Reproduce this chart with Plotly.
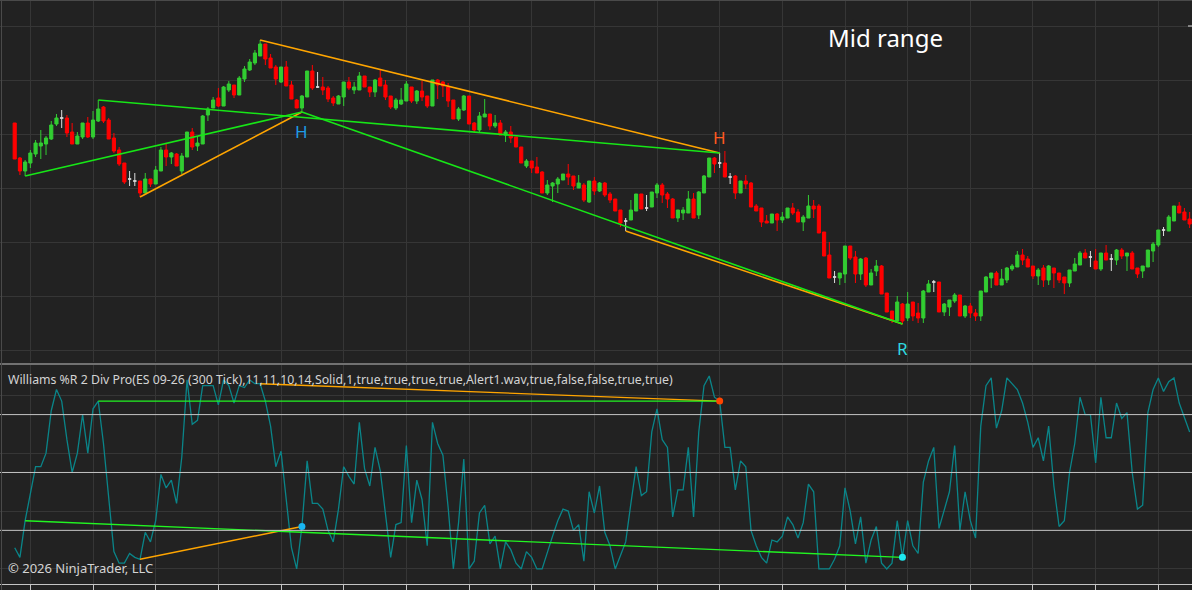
import plotly.graph_objects as go

# ES 09-26 (300 Tick) candles
bars = list(range(226))

opens = [
    6593.85, 6592.10, 6591.45, 6591.85, 6592.30, 6592.70, 6592.80, 6593.05, 6593.80, 6594.10,
    6594.10, 6593.40, 6592.80, 6593.15, 6593.85, 6593.15, 6593.95, 6594.65, 6594.00, 6593.10,
    6592.50, 6591.85, 6591.05, 6590.95, 6590.95, 6590.35, 6591.05, 6590.80, 6591.45, 6592.50,
    6592.15, 6592.30, 6591.45, 6592.15, 6593.40, 6592.70, 6592.80, 6594.25, 6594.60, 6595.10,
    6594.70, 6595.50, 6595.75, 6595.25, 6596.05, 6596.50, 6596.85, 6597.20, 6597.80, 6597.10,
    6596.65, 6595.90, 6596.65, 6595.75, 6595.00, 6594.60, 6595.15, 6596.45, 6595.65, 6595.65,
    6595.60, 6595.10, 6594.80, 6595.15, 6595.90, 6595.50, 6595.50, 6596.20, 6595.65, 6595.40,
    6596.10, 6595.75, 6595.20, 6594.60, 6594.80, 6594.95, 6595.65, 6594.95, 6595.45, 6595.20,
    6594.70, 6596.00, 6595.90, 6595.65, 6595.00, 6594.05, 6594.50, 6595.20, 6593.85, 6593.50,
    6594.15, 6594.30, 6593.70, 6593.85, 6593.25, 6593.40, 6593.15, 6592.65, 6591.70, 6591.95,
    6591.65, 6591.40, 6590.35, 6590.70, 6590.80, 6591.00, 6591.30, 6591.20, 6590.60, 6590.75,
    6589.90, 6590.95, 6590.45, 6590.85, 6590.30, 6590.05, 6589.50, 6588.95, 6589.00, 6589.45,
    6590.30, 6589.60, 6589.65, 6590.35, 6590.75, 6590.30, 6590.05, 6589.10, 6589.35, 6589.35,
    6590.05, 6589.25, 6590.35, 6591.15, 6592.10, 6591.85, 6591.85, 6591.15, 6591.20, 6590.35,
    6590.95, 6590.85, 6589.70, 6589.60, 6588.95, 6588.85, 6589.30, 6589.00, 6589.10, 6589.60,
    6589.40, 6588.90, 6589.10, 6589.70, 6589.70, 6588.40, 6587.25, 6586.15, 6586.10, 6586.30,
    6587.70, 6587.15, 6586.30, 6587.10, 6585.75, 6586.45, 6586.70, 6585.35, 6584.45, 6583.95,
    6584.80, 6584.10, 6584.90, 6584.35, 6584.10, 6585.40, 6585.90, 6585.90, 6584.40, 6584.65,
    6584.95, 6585.25, 6584.20, 6584.70, 6584.35, 6584.20, 6585.40, 6586.10, 6586.35, 6585.75,
    6586.00, 6586.55, 6586.65, 6587.25, 6587.05, 6586.70, 6586.20, 6586.60, 6586.00, 6586.60,
    6586.35, 6586.15, 6585.85, 6586.45, 6586.75, 6587.35, 6587.15, 6586.95, 6586.55, 6587.35,
    6587.05, 6587.00, 6587.50, 6587.20, 6587.35, 6586.60, 6586.45, 6586.65, 6587.45, 6587.75,
    6588.50, 6588.45, 6588.95, 6589.70, 6589.40, 6589.05,
]

highs = [
    6593.85, 6592.15, 6592.00, 6592.50, 6593.00, 6593.50, 6593.20, 6593.95, 6594.30, 6594.50,
    6594.25, 6593.85, 6593.40, 6593.85, 6594.15, 6594.45, 6595.00, 6594.70, 6594.10, 6593.35,
    6592.65, 6591.85, 6591.45, 6591.35, 6590.95, 6591.35, 6591.05, 6591.70, 6592.65, 6592.80,
    6592.40, 6592.35, 6592.35, 6593.40, 6593.60, 6593.20, 6594.25, 6594.65, 6595.15, 6595.60,
    6595.70, 6595.95, 6595.75, 6596.20, 6596.70, 6597.05, 6597.50, 6598.00, 6597.80, 6597.30,
    6596.75, 6596.65, 6596.95, 6595.95, 6595.05, 6595.25, 6596.45, 6596.75, 6596.40, 6596.15,
    6595.70, 6595.20, 6595.25, 6595.90, 6596.15, 6595.90, 6596.40, 6596.20, 6595.65, 6596.05,
    6596.50, 6596.00, 6595.20, 6595.10, 6595.60, 6595.95, 6595.65, 6595.50, 6595.95, 6595.20,
    6596.00, 6596.05, 6595.95, 6595.85, 6595.00, 6594.65, 6595.25, 6595.20, 6593.90, 6594.40,
    6595.05, 6594.30, 6594.25, 6594.00, 6593.50, 6593.70, 6593.15, 6592.65, 6592.05, 6591.95,
    6592.15, 6591.45, 6591.00, 6590.90, 6591.15, 6591.30, 6591.80, 6591.20, 6591.25, 6590.85,
    6590.95, 6591.15, 6590.90, 6590.90, 6590.40, 6590.05, 6589.50, 6589.10, 6590.00, 6590.30,
    6590.30, 6590.25, 6590.40, 6590.85, 6590.85, 6590.40, 6590.10, 6589.50, 6589.65, 6590.45,
    6590.35, 6590.45, 6591.25, 6592.10, 6592.15, 6592.35, 6592.45, 6591.35, 6591.25, 6590.95,
    6591.25, 6590.90, 6589.80, 6589.60, 6589.25, 6589.30, 6589.35, 6589.40, 6589.60, 6589.85,
    6589.55, 6589.25, 6590.25, 6590.00, 6589.80, 6588.40, 6587.90, 6586.45, 6586.35, 6587.70,
    6587.70, 6587.45, 6587.10, 6587.15, 6586.55, 6587.00, 6586.75, 6585.35, 6584.45, 6585.20,
    6584.85, 6585.40, 6584.90, 6584.85, 6585.50, 6586.00, 6586.00, 6585.90, 6584.85, 6585.00,
    6585.35, 6585.25, 6584.75, 6584.85, 6584.55, 6585.45, 6586.20, 6586.35, 6586.45, 6586.55,
    6586.65, 6586.80, 6587.45, 6587.55, 6587.20, 6586.70, 6586.60, 6586.75, 6586.75, 6586.60,
    6586.35, 6586.15, 6586.50, 6587.10, 6587.45, 6587.55, 6587.45, 6587.55, 6587.35, 6587.75,
    6587.30, 6587.55, 6587.60, 6587.35, 6587.45, 6586.60, 6586.70, 6587.50, 6587.90, 6588.50,
    6588.65, 6589.25, 6589.70, 6589.90, 6589.60, 6589.40,
]

lows = [
    6592.05, 6591.25, 6591.20, 6591.60, 6592.15, 6592.05, 6592.25, 6593.00, 6593.70, 6593.60,
    6593.15, 6592.80, 6592.80, 6593.05, 6593.10, 6593.05, 6593.90, 6593.85, 6593.05, 6592.35,
    6591.70, 6590.80, 6590.70, 6590.70, 6590.15, 6590.35, 6590.65, 6590.80, 6591.45, 6591.70,
    6591.80, 6591.70, 6591.30, 6592.15, 6592.50, 6592.45, 6592.80, 6593.95, 6594.60, 6594.65,
    6594.70, 6595.40, 6595.10, 6595.25, 6595.90, 6596.45, 6596.75, 6597.20, 6596.75, 6596.60,
    6595.75, 6595.85, 6595.70, 6595.05, 6594.60, 6594.40, 6595.15, 6595.50, 6595.60, 6595.25,
    6594.90, 6594.70, 6594.80, 6594.70, 6595.50, 6595.30, 6595.50, 6595.65, 6595.15, 6595.15,
    6595.70, 6595.00, 6594.55, 6594.50, 6594.75, 6594.95, 6594.85, 6594.80, 6594.95, 6594.60,
    6594.70, 6595.05, 6595.15, 6594.65, 6594.05, 6593.95, 6594.45, 6593.80, 6593.35, 6593.35,
    6594.15, 6593.50, 6593.60, 6593.25, 6592.90, 6592.85, 6592.65, 6591.85, 6591.60, 6591.35,
    6591.35, 6590.35, 6590.25, 6589.90, 6590.35, 6591.00, 6590.75, 6590.50, 6590.60, 6589.90,
    6589.85, 6590.25, 6590.40, 6590.15, 6589.85, 6589.45, 6588.65, 6588.45, 6589.00, 6589.45,
    6589.55, 6589.45, 6589.65, 6590.10, 6589.85, 6589.60, 6589.10, 6588.90, 6589.00, 6589.35,
    6589.10, 6589.05, 6590.35, 6591.15, 6591.35, 6591.60, 6591.15, 6590.80, 6590.05, 6590.35,
    6590.55, 6589.65, 6589.45, 6588.65, 6588.85, 6588.85, 6588.45, 6588.85, 6589.10, 6589.25,
    6588.90, 6588.45, 6589.10, 6589.10, 6588.35, 6587.20, 6586.10, 6585.85, 6585.75, 6585.85,
    6587.00, 6585.85, 6586.00, 6585.65, 6585.75, 6586.20, 6585.30, 6584.40, 6583.85, 6583.95,
    6583.80, 6583.95, 6583.95, 6583.85, 6583.85, 6585.40, 6585.40, 6584.40, 6584.20, 6584.20,
    6584.85, 6584.20, 6584.10, 6584.10, 6583.95, 6583.95, 6585.40, 6585.60, 6585.75, 6585.75,
    6585.85, 6586.45, 6586.65, 6586.75, 6586.65, 6586.05, 6585.75, 6585.65, 6585.75, 6585.60,
    6585.85, 6585.30, 6585.65, 6586.45, 6586.75, 6587.10, 6586.65, 6586.55, 6586.45, 6587.00,
    6586.45, 6586.75, 6587.05, 6586.45, 6586.55, 6586.10, 6586.10, 6586.65, 6586.90, 6587.65,
    6588.20, 6588.45, 6588.95, 6589.35, 6589.00, 6588.60,
]

closes = [
    6592.05, 6591.45, 6591.90, 6592.35, 6592.85, 6592.85, 6593.10, 6593.75, 6594.10, 6594.10,
    6593.35, 6592.80, 6593.20, 6593.85, 6593.15, 6594.00, 6594.55, 6593.95, 6593.05, 6592.45,
    6591.80, 6590.90, 6591.05, 6590.95, 6590.35, 6591.05, 6590.80, 6591.50, 6592.50, 6592.15,
    6592.35, 6591.70, 6592.20, 6593.40, 6592.65, 6592.85, 6594.20, 6594.55, 6595.00, 6594.70,
    6595.65, 6595.80, 6595.25, 6596.10, 6596.55, 6596.90, 6597.35, 6597.80, 6597.05, 6596.60,
    6596.05, 6596.65, 6595.70, 6595.05, 6594.60, 6595.20, 6596.45, 6595.60, 6595.65, 6595.50,
    6595.05, 6594.85, 6595.20, 6595.90, 6595.60, 6595.65, 6596.20, 6595.65, 6595.40, 6596.00,
    6595.70, 6595.15, 6594.65, 6595.00, 6595.00, 6595.80, 6594.95, 6595.45, 6595.15, 6594.70,
    6596.00, 6595.75, 6595.70, 6594.95, 6594.05, 6594.55, 6595.20, 6593.80, 6593.50, 6594.20,
    6594.30, 6593.70, 6593.85, 6593.25, 6593.40, 6593.10, 6592.65, 6591.85, 6591.95, 6591.60,
    6591.35, 6590.35, 6590.75, 6590.85, 6591.05, 6591.30, 6591.15, 6590.70, 6590.85, 6590.00,
    6590.95, 6590.45, 6590.85, 6590.25, 6590.00, 6589.45, 6588.85, 6588.95, 6589.50, 6590.30,
    6589.55, 6589.60, 6590.40, 6590.75, 6590.25, 6590.05, 6589.10, 6589.50, 6589.50, 6590.05,
    6589.10, 6590.40, 6591.20, 6592.10, 6591.80, 6591.85, 6591.15, 6591.15, 6590.35, 6590.95,
    6590.80, 6589.65, 6589.45, 6588.90, 6588.85, 6589.30, 6589.00, 6589.15, 6589.60, 6589.35,
    6588.90, 6589.15, 6589.70, 6589.55, 6588.35, 6587.20, 6586.10, 6586.15, 6586.35, 6587.70,
    6587.10, 6586.30, 6587.05, 6585.75, 6586.35, 6586.70, 6585.30, 6584.40, 6584.00, 6584.90,
    6583.95, 6584.80, 6584.20, 6584.10, 6585.45, 6585.80, 6585.90, 6584.40, 6584.80, 6585.00,
    6585.25, 6584.20, 6584.70, 6584.35, 6584.20, 6585.45, 6586.15, 6586.35, 6585.75, 6586.05,
    6586.60, 6586.70, 6587.25, 6587.00, 6586.65, 6586.20, 6586.50, 6586.00, 6586.70, 6586.35,
    6586.00, 6585.85, 6586.50, 6586.80, 6587.35, 6587.10, 6587.15, 6586.55, 6587.35, 6587.00,
    6587.05, 6587.50, 6587.20, 6587.35, 6586.55, 6586.30, 6586.70, 6587.50, 6587.80, 6588.50,
    6588.50, 6589.15, 6589.70, 6589.35, 6589.00, 6588.80,
]

# Williams %R (14)
williams_r = [
    -89, -94, -75, -61, -47, -47, -40, -18, -7, -13,
    -33, -50, -40, -20, -40, -17, -13, -35, -64, -91,
    -97, -97, -92, -94, -95, -81, -86, -75, -51, -58,
    -54, -66, -42, -2, -25, -23, -5, -5, -5, -15,
    -2, -5, -14, -5, -6, -2, -4, -4, -13, -26,
    -47, -39, -65, -89, -100, -78, -44, -66, -66, -69,
    -80, -86, -69, -47, -52, -56, -24, -48, -57, -37,
    -49, -73, -94, -77, -76, -36, -76, -54, -64, -88,
    -24, -35, -41, -68, -100, -76, -43, -100, -96, -71,
    -67, -87, -83, -100, -86, -90, -97, -100, -91, -94,
    -100, -100, -91, -83, -75, -69, -70, -80, -77, -96,
    -60, -71, -57, -81, -88, -100, -93, -86, -66, -47,
    -62, -60, -29, -17, -33, -37, -73, -59, -59, -37,
    -73, -29, -5, 0, -11, -13, -37, -37, -59, -44,
    -47, -80, -88, -94, -97, -85, -86, -83, -73, -77,
    -84, -76, -56, -60, -100, -100, -100, -95, -88, -58,
    -70, -87, -73, -97, -85, -78, -97, -100, -97, -75,
    -94, -75, -88, -92, -55, -44, -37, -79, -69, -60,
    -36, -80, -60, -75, -84, -26, -5, -1, -27, -18,
    -1, -4, -7, -14, -24, -37, -32, -44, -26, -57,
    -78, -75, -50, -35, -11, -20, -20, -45, -11, -32,
    -32, -14, -22, -19, -50, -69, -67, -19, -7, -1,
    -8, -3, -1, -14, -22, -29,
]

wr_levels = [-20, -50, -80]

# divergence lines: (start bar, end bar)
price_lines_orange = [(24, 55, "low"), (47, 135, "high"), (117, 170, "low")]
price_lines_green = [(2, 55, "low"), (16, 135, "high"), (55, 170, "low")]
wr_lines_orange = [(24, 55), (47, 135)]
wr_lines_green = [(2, 170), (16, 135)]

study_label = ("Williams %R 2 Div Pro(ES 09-26 (300 Tick),11,11,10,14,Solid,1,true,true,"
               "true,true,Alert1.wav,true,false,false,true,true)")

BG = "#222222"
GRID = "#363636"
UP = "#32cd32"
DOWN = "#ff0000"
DOJI = "#dcdcdc"
ORANGE = "#ffa500"
GREEN = "#17e617"
FONT = "Noto Sans"

W, H = 1192, 590


def px(y):
    """ pixel row -> paper y """
    return 1 - y / H


fig = go.Figure()

# candles, split by direction so dojis get their own colour
groups = {"up": ([], UP), "down": ([], DOWN), "doji": ([], DOJI)}
for i in bars:
    if closes[i] > opens[i]:
        groups["up"][0].append(i)
    elif closes[i] < opens[i]:
        groups["down"][0].append(i)
    else:
        groups["doji"][0].append(i)

for idx, color in groups.values():
    style = {"line": {"color": color, "width": 1}, "fillcolor": color}
    fig.add_trace(go.Candlestick(
        x=idx,
        open=[opens[i] for i in idx], high=[highs[i] for i in idx],
        low=[lows[i] for i in idx], close=[closes[i] for i in idx],
        increasing=style, decreasing=style, whiskerwidth=0,
        xaxis="x", yaxis="y", showlegend=False, hoverinfo="skip"
    ))

price_of = {"low": lows, "high": highs}
for lines, color in ((price_lines_orange, ORANGE), (price_lines_green, GREEN)):
    for a, b, side in lines:
        fig.add_trace(go.Scatter(
            x=[a, b], y=[price_of[side][a], price_of[side][b]], mode="lines",
            line={"color": color, "width": 1.6}, xaxis="x", yaxis="y",
            showlegend=False, hoverinfo="skip"
        ))

# lower panel
fig.add_trace(go.Scatter(
    x=bars, y=williams_r, mode="lines", line={"color": "#0a8589", "width": 1.3},
    xaxis="x2", yaxis="y2", showlegend=False, hoverinfo="skip"
))
for lines, color in ((wr_lines_orange, ORANGE), (wr_lines_green, "#22f522")):
    for a, b in lines:
        fig.add_trace(go.Scatter(
            x=[a, b], y=[williams_r[a], williams_r[b]], mode="lines",
            line={"color": color, "width": 1.4}, xaxis="x2", yaxis="y2",
            showlegend=False, hoverinfo="skip"
        ))

for bar, color in ((135, "#ff4500"), (55, "#19b5f0"), (170, "#1ee8f0")):
    fig.add_trace(go.Scatter(
        x=[bar], y=[williams_r[bar]], mode="markers",
        marker={"color": color, "size": 7}, xaxis="x2", yaxis="y2",
        showlegend=False, hoverinfo="skip"
    ))

shapes = []
for lvl in wr_levels:
    shapes.append({"type": "line", "xref": "paper", "yref": "y2", "x0": 0, "x1": 1,
                   "y0": lvl, "y1": lvl, "line": {"color": "#c4c4c4", "width": 1}})
# panel separator, borders, price-axis tick stub
shapes.append({"type": "line", "xref": "paper", "yref": "paper", "x0": 0, "x1": 1,
               "y0": px(364), "y1": px(364), "line": {"color": "#c0c0c0", "width": 1}})
shapes.append({"type": "line", "xref": "paper", "yref": "paper", "x0": 0, "x1": 1,
               "y0": px(0.5), "y1": px(0.5), "line": {"color": "#4a4a4a", "width": 1}})
shapes.append({"type": "line", "xref": "paper", "yref": "paper", "x0": 1.5 / W, "x1": 1.5 / W,
               "y0": 0, "y1": 1, "line": {"color": "#4a4a4a", "width": 1}})
shapes.append({"type": "line", "xref": "paper", "yref": "y", "x0": 1 - 4 / W, "x1": 1,
               "y0": 6598.7, "y1": 6598.7, "line": {"color": "#dddddd", "width": 1}})

annotations = [
    {"text": "Mid range", "xref": "paper", "yref": "paper", "x": 885 / W, "y": px(38),
     "xanchor": "center", "yanchor": "middle",
     "showarrow": False, "font": {"family": FONT, "size": 24, "color": "#ffffff"}},
    {"text": study_label, "xref": "paper", "yref": "paper", "x": 6 / W, "y": px(380),
     "xanchor": "left", "yanchor": "middle",
     "showarrow": False, "font": {"family": FONT, "size": 12.3, "color": "#d4d4d4"}},
    {"text": "© 2026 NinjaTrader, LLC", "xref": "paper", "yref": "paper", "x": 6 / W, "y": px(568),
     "xanchor": "left", "yanchor": "middle",
     "showarrow": False, "font": {"family": FONT, "size": 13, "color": "#d4d4d4"}},
    {"text": "H", "xref": "x", "yref": "y", "x": 55, "y": lows[55], "yshift": -19,
     "showarrow": False, "font": {"family": FONT, "size": 17, "color": "#1e9be6"}},
    {"text": "H", "xref": "x", "yref": "y", "x": 135, "y": highs[135], "yshift": 16,
     "showarrow": False, "font": {"family": FONT, "size": 17, "color": "#ff5a1f"}},
    {"text": "R", "xref": "x", "yref": "y", "x": 170, "y": lows[170], "yshift": -24,
     "showarrow": False, "font": {"family": FONT, "size": 17, "color": "#2fd8e0"}},
]

x_range = [-14.7 / 5.222, (W - 14.7) / 5.222]

axis_common = {"showticklabels": False, "zeroline": False, "showgrid": True,
               "gridcolor": GRID, "gridwidth": 1, "fixedrange": True}

fig.update_layout(
    width=W, height=H, margin={"l": 0, "r": 0, "t": 0, "b": 0},
    paper_bgcolor=BG, plot_bgcolor=BG, showlegend=False,
    boxgap=0.2, boxgroupgap=0.25,
    shapes=shapes, annotations=annotations,
    xaxis={**axis_common, "domain": [0, 1], "range": x_range, "anchor": "y",
           "tick0": 3, "dtick": 12, "ticks": "", "rangeslider": {"visible": False}},
    yaxis={**axis_common, "domain": [px(362), 1], "range": [6581.9, 6600],
           "tick0": 6598.7, "dtick": 2.7},
    xaxis2={**axis_common, "domain": [0, 1], "matches": "x", "anchor": "y2",
            "tick0": 3, "dtick": 12, "ticks": "outside", "ticklen": 6,
            "tickcolor": "#c4c4c4", "showline": True, "linecolor": "#c4c4c4"},
    yaxis2={**axis_common, "domain": [px(584), px(365)], "range": [-107.8, 5.7],
            "tick0": -100, "dtick": 30},
)

# the page's default body margin would shift the chart; drop it
fig.write_html("out.html", config={"displayModeBar": False},
               post_script="document.body.style.margin='0';"
               "document.body.style.overflow='hidden';")
